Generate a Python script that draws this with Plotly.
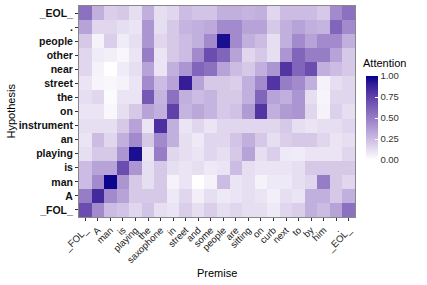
import plotly.graph_objects as go

premise = ["_FOL_", "A", "man", "is", "playing", "the", "saxophone", "in", "street", "and",
           "some", "people", "are", "sitting", "on", "curb", "next", "to", "by", "him", ".", "_EOL_"]
# hypothesis rows listed top to bottom as in the picture
hypothesis_top_down = ["_EOL_", ".", "people", "other", "near", "street", "the", "on",
                       "instrument", "an", "playing", "is", "man", "A", "_FOL_"]

attn_EOL = [0.55, 0.30, 0.18, 0.20, 0.12, 0.30, 0.12, 0.15, 0.25, 0.22, 0.22, 0.30, 0.30, 0.28, 0.30, 0.15, 0.25, 0.25, 0.25, 0.20, 0.45, 0.55]
attn_dot = [0.35, 0.15, 0.15, 0.12, 0.10, 0.40, 0.12, 0.20, 0.28, 0.30, 0.32, 0.45, 0.45, 0.35, 0.35, 0.20, 0.30, 0.35, 0.30, 0.28, 0.60, 0.45]
attn_people = [0.20, 0.05, 0.18, 0.07, 0.12, 0.40, 0.15, 0.20, 0.25, 0.30, 0.45, 0.95, 0.45, 0.30, 0.25, 0.12, 0.30, 0.45, 0.35, 0.45, 0.45, 0.30]
attn_other = [0.15, 0.07, 0.06, 0.03, 0.10, 0.50, 0.10, 0.20, 0.25, 0.45, 0.70, 0.60, 0.35, 0.15, 0.20, 0.12, 0.40, 0.60, 0.50, 0.50, 0.35, 0.20]
attn_near = [0.15, 0.05, 0.00, 0.07, 0.12, 0.35, 0.10, 0.30, 0.40, 0.60, 0.55, 0.35, 0.25, 0.20, 0.30, 0.40, 0.80, 0.60, 0.70, 0.30, 0.25, 0.20]
attn_street = [0.10, 0.04, 0.03, 0.05, 0.10, 0.45, 0.25, 0.35, 0.90, 0.35, 0.20, 0.20, 0.18, 0.30, 0.45, 0.80, 0.50, 0.45, 0.30, 0.05, 0.12, 0.15]
attn_the = [0.12, 0.15, 0.02, 0.10, 0.10, 0.65, 0.28, 0.55, 0.30, 0.25, 0.28, 0.20, 0.20, 0.30, 0.60, 0.35, 0.30, 0.40, 0.12, 0.04, 0.15, 0.15]
attn_on = [0.10, 0.10, 0.03, 0.12, 0.20, 0.35, 0.30, 0.75, 0.28, 0.33, 0.28, 0.20, 0.23, 0.38, 0.80, 0.30, 0.38, 0.40, 0.15, 0.05, 0.17, 0.12]
attn_instrument = [0.12, 0.12, 0.12, 0.20, 0.35, 0.10, 0.82, 0.30, 0.10, 0.15, 0.10, 0.15, 0.15, 0.15, 0.15, 0.15, 0.20, 0.12, 0.10, 0.12, 0.12, 0.15]
attn_an = [0.10, 0.25, 0.15, 0.30, 0.45, 0.20, 0.45, 0.30, 0.12, 0.08, 0.15, 0.15, 0.22, 0.30, 0.20, 0.12, 0.18, 0.20, 0.20, 0.15, 0.10, 0.12]
attn_playing = [0.12, 0.20, 0.20, 0.40, 0.95, 0.10, 0.50, 0.15, 0.12, 0.10, 0.15, 0.12, 0.20, 0.35, 0.12, 0.18, 0.08, 0.07, 0.10, 0.10, 0.10, 0.15]
attn_is = [0.25, 0.35, 0.35, 0.70, 0.40, 0.12, 0.20, 0.12, 0.10, 0.12, 0.08, 0.10, 0.25, 0.12, 0.10, 0.10, 0.10, 0.12, 0.20, 0.20, 0.20, 0.20]
attn_man = [0.25, 0.45, 0.98, 0.40, 0.20, 0.12, 0.20, 0.05, 0.10, 0.00, 0.05, 0.25, 0.10, 0.12, 0.05, 0.08, 0.08, 0.12, 0.15, 0.50, 0.20, 0.15]
attn_A = [0.50, 0.85, 0.45, 0.35, 0.20, 0.20, 0.20, 0.08, 0.15, 0.06, 0.12, 0.08, 0.10, 0.12, 0.10, 0.06, 0.12, 0.10, 0.30, 0.30, 0.20, 0.30]
attn_FOL = [0.70, 0.45, 0.25, 0.22, 0.15, 0.22, 0.12, 0.10, 0.18, 0.12, 0.18, 0.12, 0.15, 0.12, 0.12, 0.08, 0.15, 0.18, 0.30, 0.25, 0.35, 0.55]

rows_top_down = [attn_EOL, attn_dot, attn_people, attn_other, attn_near, attn_street, attn_the,
                 attn_on, attn_instrument, attn_an, attn_playing, attn_is, attn_man, attn_A, attn_FOL]

hypothesis = hypothesis_top_down[::-1]
z = rows_top_down[::-1]


# ggplot-like Lab interpolation from white to dark blue
def hex_to_rgb(h):
    h = h.lstrip("#")
    return [int(h[i:i + 2], 16) / 255 for i in (0, 2, 4)]


def srgb_to_lab(rgb):
    lin = [c / 12.92 if c <= 0.04045 else ((c + 0.055) / 1.055) ** 2.4 for c in rgb]
    X = 0.4124 * lin[0] + 0.3576 * lin[1] + 0.1805 * lin[2]
    Y = 0.2126 * lin[0] + 0.7152 * lin[1] + 0.0722 * lin[2]
    Z = 0.0193 * lin[0] + 0.1192 * lin[1] + 0.9505 * lin[2]
    Xn, Yn, Zn = 0.95047, 1.0, 1.08883

    def f(t):
        return t ** (1 / 3) if t > 0.008856 else 7.787 * t + 16 / 116
    fx, fy, fz = f(X / Xn), f(Y / Yn), f(Z / Zn)
    return [116 * fy - 16, 500 * (fx - fy), 200 * (fy - fz)]


def lab_to_hex(lab):
    L, a, b = lab
    fy = (L + 16) / 116
    fx = fy + a / 500
    fz = fy - b / 200

    def finv(t):
        return t ** 3 if t ** 3 > 0.008856 else (t - 16 / 116) / 7.787
    X, Y, Z = 0.95047 * finv(fx), finv(fy), 1.08883 * finv(fz)
    r = 3.2406 * X - 1.5372 * Y - 0.4986 * Z
    g = -0.9689 * X + 1.8758 * Y + 0.0415 * Z
    bb = 0.0557 * X - 0.2040 * Y + 1.0570 * Z
    out = []
    for c in (r, g, bb):
        c = 12.92 * c if c <= 0.0031308 else 1.055 * max(c, 0) ** (1 / 2.4) - 0.055
        out.append(int(round(min(max(c, 0), 1) * 255)))
    return "#%02x%02x%02x" % tuple(out)


low = srgb_to_lab(hex_to_rgb("#ffffff"))
high = srgb_to_lab(hex_to_rgb("#00008b"))
n = 11
colorscale = []
for i in range(n):
    t = i / (n - 1)
    colorscale.append([t, lab_to_hex([low[k] + (high[k] - low[k]) * t for k in range(3)])])

font_family = "Liberation Sans, Arial, sans-serif"

# plot area in pixels
W, H = 427, 285
L_M, R_M, T_M, B_M = 79, 72, 6, 68
plot_h = H - T_M - B_M

fig = go.Figure(go.Heatmap(
    x=premise, y=hypothesis, z=z, zmin=0, zmax=1,
    colorscale=colorscale, xgap=0, ygap=0,
    colorbar=dict(
        xref="paper", x=1 + (366 - (W - R_M)) / (W - L_M - R_M), xanchor="left",
        yref="paper", y=(H - B_M - 160) / plot_h, yanchor="bottom",
        lenmode="pixels", len=84, thickness=12,
        tickvals=[0, 0.25, 0.5, 0.75, 1.0], ticktext=["0.00", "0.25", "0.50", "0.75", "1.00"],
        ticks="inside", ticklen=3, tickcolor="white",
        tickfont=dict(size=9.5, color="#333"), outlinewidth=0, xpad=0, ypad=0,
    ),
))

fig.update_layout(
    width=W, height=H,
    margin=dict(l=L_M, r=R_M, t=T_M, b=B_M, autoexpand=False),
    paper_bgcolor="white", plot_bgcolor="white",
    font=dict(family=font_family, color="#000"),
    annotations=[
        dict(text="Attention", xref="paper", yref="paper",
             x=1 + (361 - (W - R_M)) / (W - L_M - R_M), xanchor="left",
             y=(H - B_M - 71) / plot_h, yanchor="bottom",
             showarrow=False, font=dict(size=11, color="#000")),
        dict(text="Premise", xref="paper", yref="paper", x=0.5, xanchor="center",
             y=(H - B_M - 273) / plot_h, yanchor="middle",
             showarrow=False, font=dict(size=11, color="#000")),
        dict(text="Hypothesis", xref="paper", yref="paper",
             x=(10 - L_M) / (W - L_M - R_M), xanchor="center",
             y=0.5, yanchor="middle", textangle=-90,
             showarrow=False, font=dict(size=11, color="#000")),
    ],
)
fig.update_xaxes(
    tickangle=-45, tickfont=dict(size=9.5, color="#222"),
    ticks="outside", ticklen=3, tickcolor="#333",
    showline=True, mirror=True, linecolor="#888", linewidth=1,
    showgrid=False, zeroline=False, automargin=False,
)
fig.update_yaxes(
    tickfont=dict(size=10.5, color="#111", weight="bold"),
    ticks="outside", ticklen=3, tickcolor="#333",
    showline=True, mirror=True, linecolor="#888", linewidth=1,
    showgrid=False, zeroline=False, automargin=False,
)

# remove the browser's default page margin so the figure sits at the window's corner
fig.write_html("out.html", config={"displayModeBar": False},
               post_script="document.body.style.margin='0';")
